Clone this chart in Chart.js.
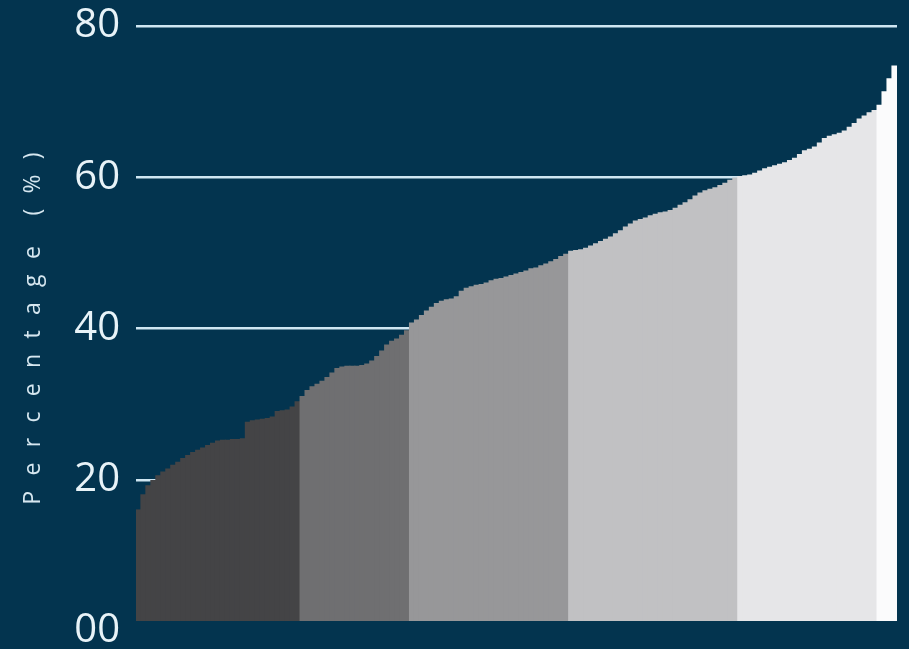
<!DOCTYPE html>
<html lang="en">
<head>
  <meta charset="UTF-8" />
  <title>Percentage distribution</title>
  <script src="https://cdn.jsdelivr.net/npm/chart.js"></script>
  <style>
    body { margin: 0; background: #03344f; }
    canvas { display: block; }
  </style>
</head>
<body>
  <canvas id="chart" width="909" height="649"></canvas>

  <script>
    // values per group, sorted low -> high
    const darkGroup = [16.0, 18.0, 19.2, 19.9, 20.5, 21.0, 21.4, 21.9, 22.3, 22.8, 23.2, 23.6, 23.9, 24.2, 24.5, 24.8,
      25.1, 25.2, 25.2, 25.3, 25.3, 25.4, 27.6, 27.8, 27.9, 28.0, 28.1, 28.3, 29.0, 29.1, 29.2, 29.6, 30.3];
    const grayGroup = [31.0, 31.8, 32.3, 32.6, 33.0, 33.5, 34.1, 34.7, 34.9, 35.0, 35.0, 35.0, 35.1, 35.3, 35.7,
      36.3, 37.0, 37.8, 38.3, 38.6, 39.1, 39.7];
    const midGroup = [40.7, 41.1, 41.7, 42.3, 42.8, 43.3, 43.6, 43.8, 43.9, 44.2, 44.9, 45.3, 45.5, 45.7, 45.8, 46.0,
      46.3, 46.5, 46.6, 46.8, 47.0, 47.2, 47.4, 47.6, 47.9, 48.0, 48.3, 48.5, 48.8, 49.1, 49.5, 49.8];
    const lightGroup = [50.2, 50.3, 50.4, 50.6, 50.9, 51.2, 51.5, 51.8, 52.1, 52.5, 52.9, 53.4, 53.8, 54.2, 54.4, 54.6,
      54.9, 55.1, 55.3, 55.4, 55.6, 55.9, 56.3, 56.6, 57.0, 57.5, 57.9, 58.2, 58.4, 58.6, 58.9, 59.2, 59.6, 59.9];
    const lighterGroup = [60.1, 60.2, 60.3, 60.5, 60.8, 61.1, 61.3, 61.5, 61.7, 61.9, 62.2, 62.5, 63.0, 63.5, 63.7,
      64.0, 64.5, 65.1, 65.4, 65.6, 65.8, 66.1, 66.6, 67.1, 67.7, 68.1, 68.5, 68.8];
    const whiteGroup = [69.5, 71.3, 73.0, 74.7];

    const yTicks = [0, 20, 40, 60, 80];
    const yTickLabels = ['00', '20', '40', '60', '80'];
    const yTitle = 'Percentage (%)';

    const groups = [
      { values: darkGroup, color: '#444446' },
      { values: grayGroup, color: '#6f6f71' },
      { values: midGroup, color: '#979799' },
      { values: lightGroup, color: '#c1c1c3' },
      { values: lighterGroup, color: '#e6e6e8' },
      { values: whiteGroup, color: '#fbfbfc' }
    ];

    const values = [];
    const colors = [];
    groups.forEach(g => {
      g.values.forEach(v => { values.push(v); colors.push(g.color); });
    });
    const labels = values.map((v, i) => i + 1);

    // spaced-out axis title
    const gap = '\u2002\u2009';
    const spacedTitle = yTitle.split('').filter(c => c !== ' ').join(gap).replace('e' + gap + '(', 'e' + gap + gap + '(');

    const ctx = document.getElementById('chart').getContext('2d');
    new Chart(ctx, {
      type: 'bar',
      data: {
        labels: labels,
        datasets: [{
          data: values,
          backgroundColor: colors,
          borderWidth: 0,
          inflateAmount: 0.6,
          base: 1.4,
          barPercentage: 1,
          categoryPercentage: 1
        }]
      },
      options: {
        responsive: false,
        animation: false,
        layout: { padding: { top: 26, bottom: 18, right: 12, left: 0 } },
        plugins: { legend: { display: false }, tooltip: { enabled: false } },
        scales: {
          x: { display: false },
          y: {
            min: 0,
            max: 80,
            afterBuildTicks: s => { s.ticks = yTicks.map(v => ({ value: v })); },
            afterFit: s => { s.width = 136; s.paddingTop = 0; s.paddingBottom = 0; },
            border: { display: false },
            grid: {
              color: c => c.tick && c.tick.value === 0 ? 'rgba(0,0,0,0)' : '#cfe6f2',
              lineWidth: 2.5,
              drawTicks: false
            },
            ticks: {
              color: '#e8f3f8',
              padding: 16,
              font: { family: 'Open Sans', size: 40, lineHeight: 1 },
              callback: (v) => yTickLabels[yTicks.indexOf(v)]
            },
            title: {
              display: true,
              text: spacedTitle,
              color: '#d6e7f0',
              font: { family: 'Open Sans', size: 23 },
              padding: { top: 20, bottom: 0 }
            }
          }
        }
      }
    });
  </script>
</body>
</html>
